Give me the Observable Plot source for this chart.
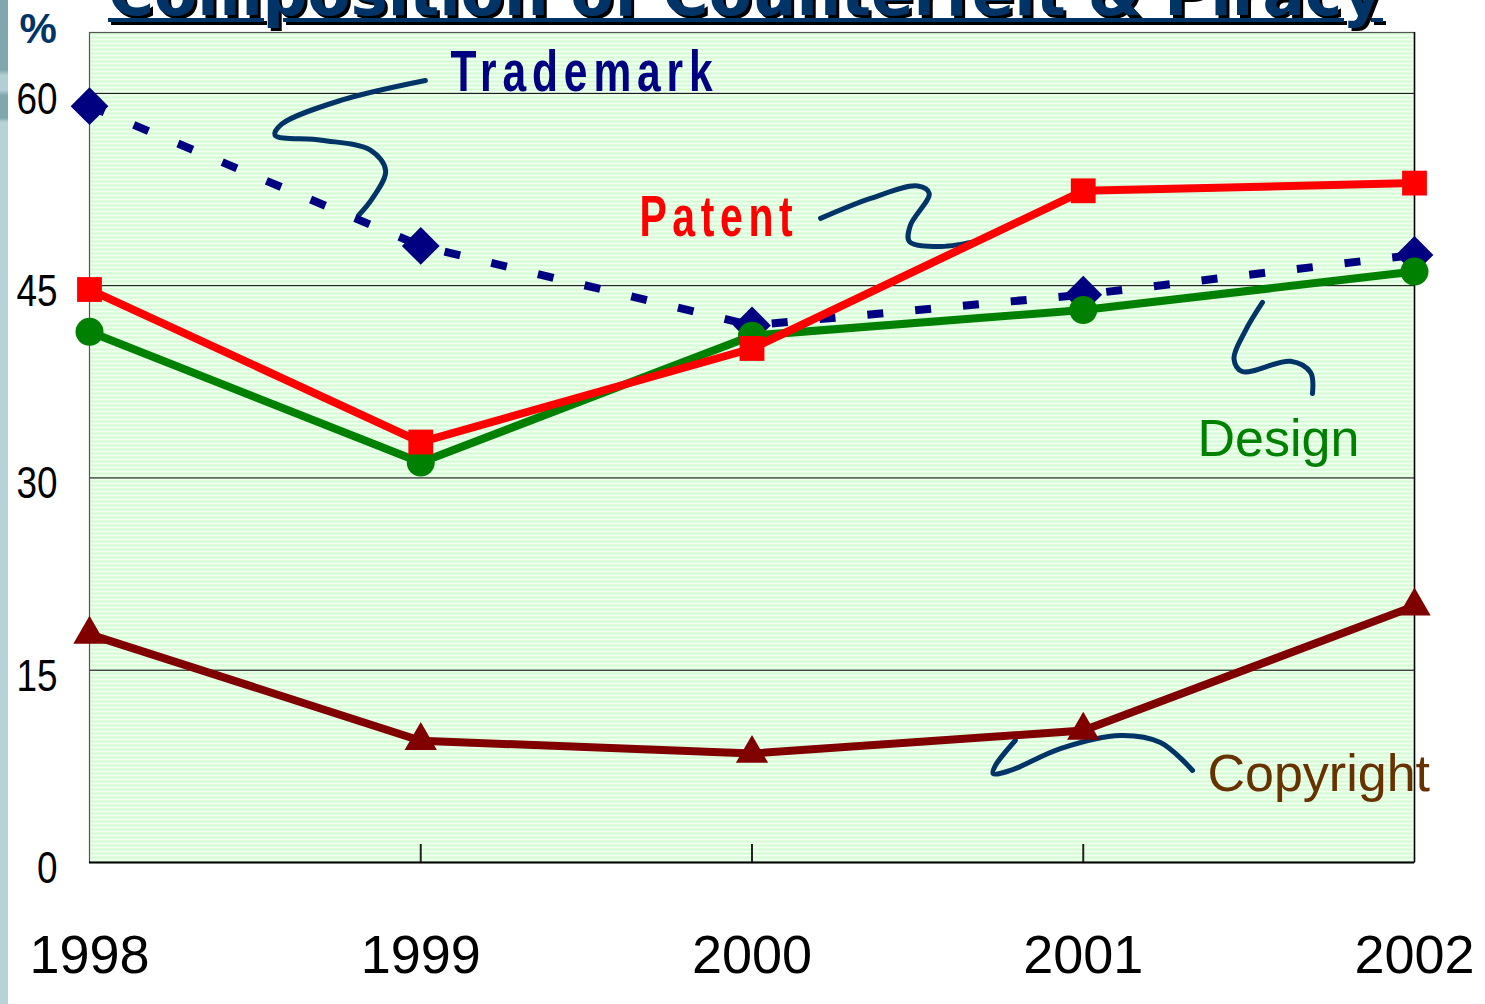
<!DOCTYPE html>
<html><head><meta charset="utf-8">
<script src="https://cdn.jsdelivr.net/npm/d3@7"></script>
<script src="https://cdn.jsdelivr.net/npm/@observablehq/plot@0.6"></script>
<style>
body{margin:0;background:#fff;overflow:hidden}
#wrap{position:relative;width:1485px;height:1004px;overflow:hidden;background:#fff}
#chart svg{position:absolute;left:0;top:0}
#deco{position:absolute;left:0;top:0;width:8px;height:1004px;background:linear-gradient(#7fa8ae 0px,#7fa8ae 70px,#b3cfd4 75px,#b3cfd4 90px,#7fa8ae 95px,#7fa8ae 118px,#b8d3d8 122px,#b8d3d8 1004px)}
#title{position:absolute;left:108px;top:-37px;white-space:nowrap;font:bold 62px "DejaVu Sans",sans-serif;line-height:1;color:#003366;text-decoration:underline;text-decoration-thickness:4px;text-underline-offset:3px;text-shadow:3px 3px 0 #000;transform-origin:0 0}
</style>
</head><body>
<div id="wrap"><div id="chart"></div><div id="deco"></div><div id="title">Composition of Counterfeit &amp; Piracy</div></div>
<script>
// ---- data ----
const years = [1998, 1999, 2000, 2001, 2002];
const trademark = [59.0, 48.1, 41.9, 44.3, 47.4];
const patent = [44.7, 32.8, 40.1, 52.4, 53.0];
const design = [41.4, 31.2, 41.1, 43.1, 46.1];
const copyright = [17.8, 9.5, 8.5, 10.3, 20.0];
const yTicks = [0, 15, 30, 45, 60];
const seriesNames = ["Trademark", "Patent", "Design", "Copyright"];

// label anchor positions (data units) and leader curves (data units)
const labelPos = {
  Trademark: [1999.09, 61.6],
  Patent: [1999.66, 50.3],
  Design: [2001.345, 33.0],
  Copyright: [2001.375, 6.9]
};
const leaderTrademark = [[1999.014,61.01],[1998.758,59.45],[1998.58,57.6],[1998.56,56.75],[1998.70,56.35],[1998.848,55.58],[1998.894,53.99],[1998.854,51.81],[1998.812,50.48]];
const leaderPatent = [[2000.207,50.25],[2000.358,51.81],[2000.50,52.78],[2000.535,52.2],[2000.478,49.7],[2000.475,48.45],[2000.569,48.06],[2000.69,48.53]];
const leaderDesign = [[2001.541,43.69],[2001.49,41.51],[2001.455,39.3],[2001.48,38.3],[2001.626,39.1],[2001.686,38.23],[2001.692,36.59]];
const leaderCopyright = [[2000.795,9.52],[2000.735,7.57],[2000.728,6.94],[2000.78,7.18],[2000.931,8.89],[2001.112,9.91],[2001.233,9.36],[2001.33,7.18]];

// ---- build tables ----
const valuesBy = {Trademark: trademark, Patent: patent, Design: design, Copyright: copyright};
const rows = name => years.map((y, i) => ({year: y, value: valuesBy[name][i], series: name}));
const pts = arr => arr.map(([x, y]) => ({x, y}));

const style = {
  Trademark: {color: "#000080", symbol: "diamond2", r: 17, dash: "16,32", label: "#000080"},
  Patent: {color: "#ff0000", symbol: "square", r: 14, dash: null, label: "#ff0000"},
  Design: {color: "#008000", symbol: "circle", r: 14, dash: null, label: "#008000"},
  Copyright: {color: "#800000", symbol: "triangle", r: 12, dash: null, label: "#663300"}
};

const arial = "'Liberation Sans',Arial,sans-serif";

const lineMark = name => Plot.line(rows(name), {x: "year", y: "value", stroke: style[name].color, strokeWidth: 8, strokeDasharray: style[name].dash, strokeLinejoin: "round", strokeLinecap: "butt"});
const dotMark = name => Plot.dot(rows(name), {x: "year", y: "value", symbol: style[name].symbol, r: style[name].r, fill: style[name].color, stroke: "none"});
const leader = arr => Plot.line(pts(arr), {x: "x", y: "y", curve: "catmull-rom", stroke: "#003366", strokeWidth: 5});
const label = (name, opts) => Plot.text([{x: labelPos[name][0], y: labelPos[name][1], t: name}], {x: "x", y: "y", text: "t", textAnchor: "start", lineAnchor: "middle", fill: style[name].label, ...opts});

const plot = Plot.plot({
  width: 1485, height: 1004,
  marginLeft: 89, marginRight: 71, marginTop: 32, marginBottom: 142,
  style: {background: "transparent", overflow: "visible"},
  x: {domain: [1998, 2002], axis: null},
  y: {domain: [0, 64.75], axis: null},
  marks: [
    Plot.frame({fill: "url(#stripes)", stroke: null}),
    Plot.ruleY([15, 30, 45, 60], {stroke: "#000", strokeWidth: 1}),
    Plot.frame({stroke: "#555", strokeWidth: 1.2}),
    Plot.ruleY([0], {stroke: "#000", strokeWidth: 2}),
    Plot.ruleX([2002], {stroke: "#000", strokeWidth: 1.5}),
    Plot.axisX([1999, 2000, 2001], {tickSize: 18, dy: -18, tickFormat: () => "", stroke: "#222", strokeWidth: 2}),
    Plot.axisX(years, {tickSize: 0, tickPadding: 72, tickFormat: d => String(d), fontSize: 54, fontFamily: arial, fill: "#000"}),
    Plot.axisY(yTicks, {tickSize: 0, tickPadding: 32, dy: 6, fontSize: 45, fontFamily: arial, fill: "#000"}),
    Plot.text(["%"], {frameAnchor: "top-left", text: d => d, dx: -70, dy: -3, textAnchor: "start", lineAnchor: "middle", fontSize: 42, fontWeight: "bold", fill: "#003366", fontFamily: arial}),
    leader(leaderTrademark), leader(leaderPatent), leader(leaderDesign), leader(leaderCopyright),
    lineMark("Trademark"), dotMark("Trademark"),
    lineMark("Design"), dotMark("Design"),
    lineMark("Patent"), dotMark("Patent"),
    lineMark("Copyright"), dotMark("Copyright"),
    label("Trademark", {fontSize: 58, fontWeight: "bold", fontFamily: arial}),
    label("Patent", {fontSize: 58, fontWeight: "bold", fontFamily: arial}),
    label("Design", {fontSize: 52, fontFamily: arial}),
    label("Copyright", {fontSize: 52, fontFamily: arial})
  ]
});

// stripe pattern for the plot area
const svg = d3.select(plot);
const defs = svg.insert("defs", ":first-child");
const pat = defs.append("pattern").attr("id", "stripes").attr("patternUnits", "userSpaceOnUse").attr("width", 8).attr("height", 4);
pat.append("rect").attr("width", 8).attr("height", 4).attr("fill", "#f1fff1");
pat.append("rect").attr("width", 8).attr("height", 2).attr("fill", "#d2fbd2");

// condensed, letter-spaced series labels
const fitWidths = {Trademark: 268, Patent: 159};
svg.selectAll("text").filter(function(){ return this.textContent in fitWidths; })
  .attr("letter-spacing", 8)
  .attr("lengthAdjust", "spacingAndGlyphs")
  .attr("textLength", function(){ return fitWidths[this.textContent]; });
// narrow y tick labels
svg.selectAll('g[aria-label="y-axis tick label"] text')
  .attr("lengthAdjust", "spacingAndGlyphs")
  .attr("textLength", function(){ return 20.5 * this.textContent.length; });

document.getElementById("chart").appendChild(plot);

// fit title width to reference
const t = document.getElementById("title");
const w = t.getBoundingClientRect().width;
t.style.transform = `scaleX(${1275 / w})`;
</script>
</body></html>
